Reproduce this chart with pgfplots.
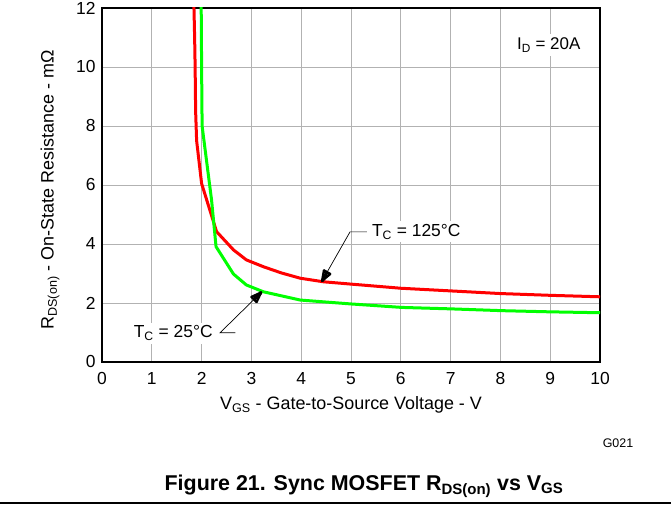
\documentclass[border=0pt]{standalone}
\usepackage{fontspec}
\setmainfont{Liberation Sans}
\usepackage{pgfplots}
\pgfplotsset{compat=1.18}
\usetikzlibrary{calc}
\begin{document}
\begin{tikzpicture}[x=1bp,y=1bp]
\path[use as bounding box] (0,0) rectangle (671,508);
\begin{axis}[
  at={(102bp,146bp)}, anchor=south west,
  scale only axis, width=498bp, height=354bp,
  xmin=0, xmax=10, ymin=0, ymax=12,
  xtick={0,1,...,10}, ytick={0,2,...,12},
  major tick length=0pt,
  grid=major,
  major grid style={line width=0.8bp, color=black!30},
  axis line style={line width=2.5bp},
  tick label style={font=\fontsize{17.5}{19}\selectfont},
  /pgf/number format/assume math mode=true,
  xticklabel style={yshift=-7bp},
  yticklabel style={xshift=-3bp},
  clip=true,
]
\addplot[line width=3bp, color=red, line join=round] coordinates {
(1.84,12.5) (1.86,11) (1.87,10) (1.88,8.5) (1.9,7.5) (2.0,6.05) (2.3,4.42) (2.64,3.80) (2.9,3.46) (3.24,3.23) (3.6,3.02) (3.98,2.84) (4.44,2.72) (5.0,2.64) (6.0,2.50) (7.0,2.41) (8.0,2.32) (9.0,2.26) (10,2.21)
};
\addplot[line width=3bp, color={rgb,255:red,0;green,255;blue,0}, line join=round] coordinates {
(1.99,12.5) (2.0,10) (2.01,8) (2.2,5.49) (2.29,3.91) (2.64,2.98) (2.9,2.61) (3.24,2.38) (3.98,2.10) (4.98,1.97) (6.02,1.85) (7.02,1.80) (8.03,1.74) (9.0,1.70) (10,1.67)
};
\coordinate (L1) at (axis cs:6.31,4.41);
\coordinate (A1s) at (axis cs:5.32,4.41);
\coordinate (A1b) at (axis cs:4.98,4.41);
\coordinate (A1t) at (axis cs:4.41,2.72);
\coordinate (L2) at (axis cs:1.43,0.98);
\coordinate (A2s) at (axis cs:2.68,0.99);
\coordinate (A2b) at (axis cs:2.37,0.99);
\coordinate (A2t) at (axis cs:3.21,2.38);
\coordinate (L3) at (axis cs:8.97,10.75);
\end{axis}
% arrow 1
\coordinate (T1) at ($(A1t)!1.2bp!(A1b)$);
\coordinate (P1a) at ($(A1t)!11bp!(A1b)!3.6bp!90:(A1t)$);
\coordinate (P1b) at ($(A1t)!11bp!(A1b)!3.6bp!-90:(A1t)$);
\coordinate (M1) at ($(A1t)!10bp!(A1b)$);
\node[fill=white, inner sep=3bp, font=\fontsize{17.5}{19}\selectfont] at (L1) {T\textsubscript{C} = 125°C};
\draw[line width=0.7bp] (A1s) -- (A1b) -- (M1);
\draw[line width=2.4bp, line join=round, line cap=round] (P1a) -- (T1) -- (P1b);
\draw[line width=2.4bp, line cap=round] (P1a) -- (P1b);
\draw[line width=3.2bp, line cap=round] (T1) -- (M1);
% arrow 2
\coordinate (T2) at ($(A2t)!1.2bp!(A2b)$);
\coordinate (P2a) at ($(A2t)!11bp!(A2b)!3.6bp!90:(A2t)$);
\coordinate (P2b) at ($(A2t)!11bp!(A2b)!3.6bp!-90:(A2t)$);
\coordinate (M2) at ($(A2t)!10bp!(A2b)$);
\node[fill=white, inner sep=3bp, font=\fontsize{17.5}{19}\selectfont] at (L2) {T\textsubscript{C} = 25°C};
\draw[line width=0.7bp] (A2s) -- (A2b) -- (M2);
\draw[line width=2.4bp, line join=round, line cap=round] (P2a) -- (T2) -- (P2b);
\draw[line width=2.4bp, line cap=round] (P2a) -- (P2b);
\draw[line width=3.2bp, line cap=round] (T2) -- (M2);
\node[fill=white, inner sep=4bp, font=\fontsize{17}{19}\selectfont] at (L3) {I\textsubscript{D} = 20A};
\node[rotate=90, font=\fontsize{18}{20}\selectfont] at (50,318) {R\textsubscript{DS(on)} - On-State Resistance - mΩ};
\node[font=\fontsize{18}{20}\selectfont] at (351,103) {V\textsubscript{GS} - Gate-to-Source Voltage - V};
\node[font=\fontsize{12.5}{14}\selectfont] at (618,65) {G021};
\node[font=\bfseries\fontsize{21.5}{24}\selectfont] at (364,22) {Figure 21. Sync MOSFET R\textsubscript{DS(on)} vs V\textsubscript{GS}};
\draw[line width=2bp] (0,5) -- (671,5);
\end{tikzpicture}
\end{document}
